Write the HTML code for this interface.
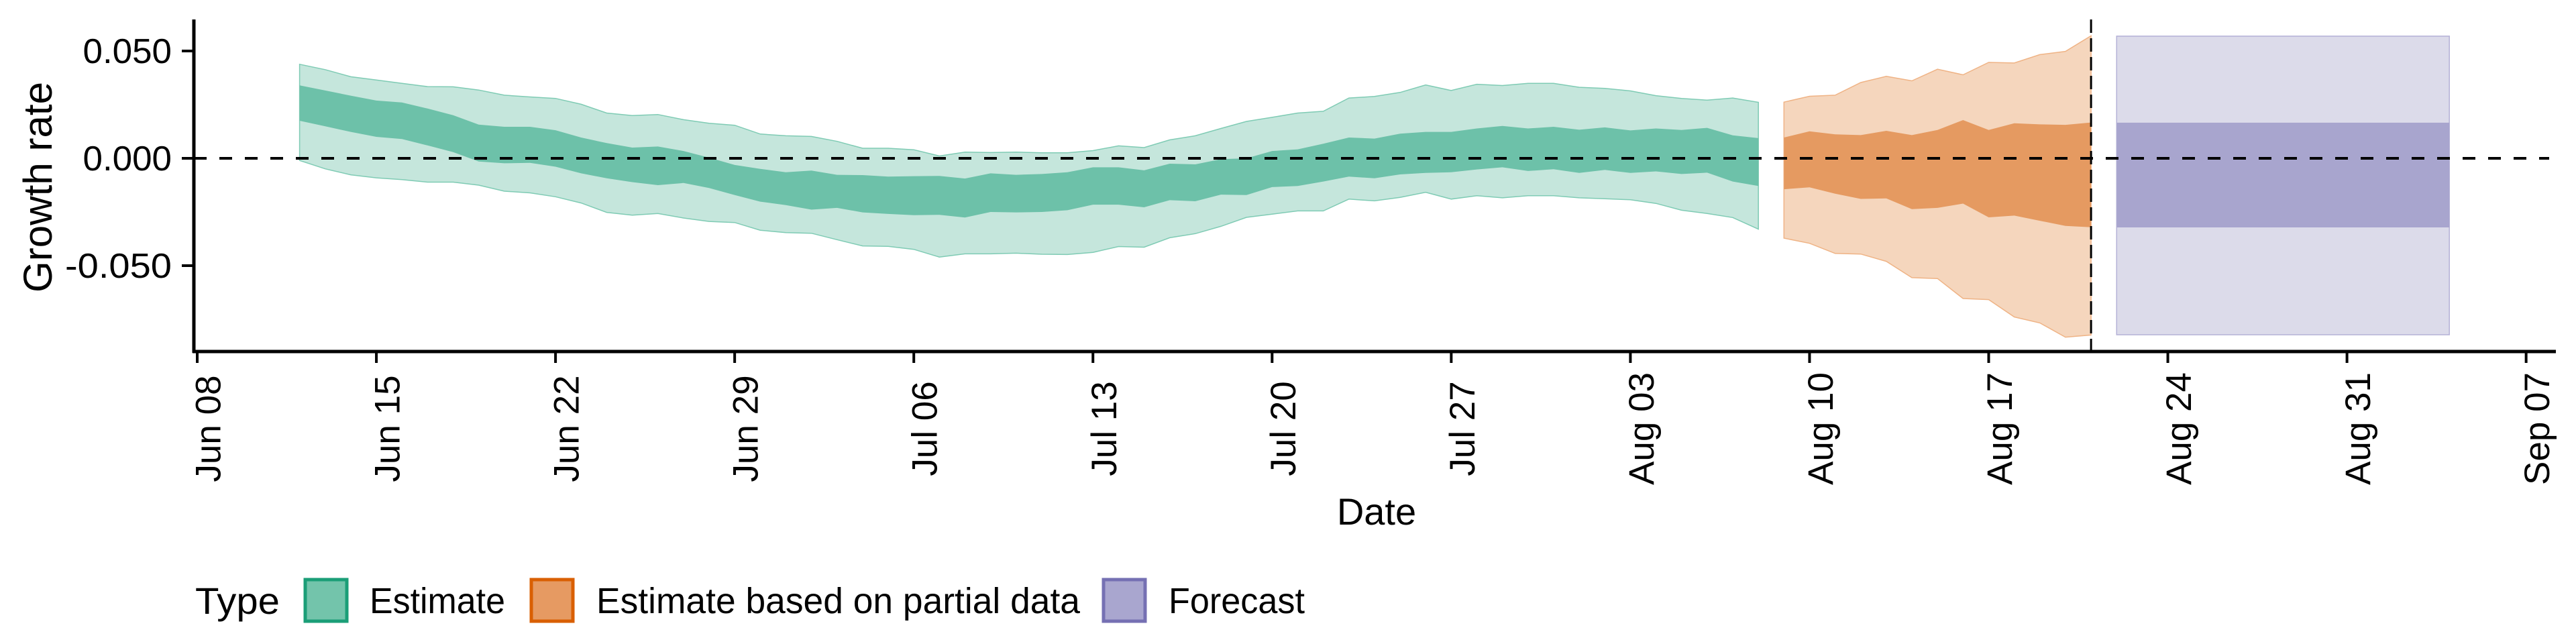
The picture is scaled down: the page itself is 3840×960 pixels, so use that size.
<!DOCTYPE html>
<html><head><meta charset="utf-8"><style>
html,body{margin:0;padding:0;background:#fff;}
svg{display:block;font-family:"Liberation Sans",sans-serif;}
</style></head><body>
<svg id="chart" width="3840" height="960" viewBox="0 0 3840 960" xmlns="http://www.w3.org/2000/svg">
<g id="bands"></g>
<g id="axes"></g>
<g id="legend"></g>
</svg>
<script>
// ---- data ----
const estStartDay = 4; // days since Jun 08
const estOuterUpper = [0.0438,0.0413,0.0380,0.0365,0.0349,0.0334,0.0333,0.0318,0.0294,0.0286,0.0279,0.0252,0.0211,0.0199,0.0204,0.0180,0.0163,0.0154,0.0113,0.0105,0.0102,0.0079,0.0047,0.0047,0.0040,0.0011,0.0029,0.0027,0.0029,0.0026,
0.0026,0.0036,0.0058,0.0050,0.0086,0.0105,0.0139,0.0172,0.0191,0.0211,0.0219,0.0281,0.0288,0.0307,0.0342,0.0316,0.0345,0.0339,0.0349,0.0349,0.0331,0.0326,0.0314,0.0292,0.0279,0.0271,0.0281,0.0261];
const estInnerUpper = [0.0340,0.0316,0.0292,0.0269,0.0260,0.0232,0.0201,0.0157,0.0147,0.0147,0.0131,0.0097,0.0071,0.0050,0.0055,0.0034,0.0003,-0.0031,-0.0049,-0.0065,-0.0057,-0.0077,-0.0078,-0.0085,-0.0083,-0.0082,-0.0094,-0.0070,-0.0077,-0.0073,
-0.0065,-0.0042,-0.0042,-0.0056,-0.0025,-0.0028,-0.0004,0.0000,0.0034,0.0042,0.0068,0.0097,0.0092,0.0115,0.0123,0.0123,0.0139,0.0151,0.0139,0.0147,0.0133,0.0144,0.0130,0.0139,0.0132,0.0142,0.0107,0.0094];
const estInnerLower = [0.0175,0.0149,0.0123,0.0100,0.0090,0.0060,0.0029,-0.0015,-0.0023,-0.0021,-0.0039,-0.0070,-0.0093,-0.0111,-0.0125,-0.0115,-0.0138,-0.0171,-0.0202,-0.0218,-0.0239,-0.0231,-0.0252,-0.0259,-0.0265,-0.0263,-0.0276,-0.0250,-0.0252,-0.0250,
-0.0242,-0.0216,-0.0216,-0.0228,-0.0195,-0.0200,-0.0169,-0.0171,-0.0134,-0.0129,-0.0108,-0.0085,-0.0093,-0.0075,-0.0068,-0.0065,-0.0052,-0.0042,-0.0059,-0.0051,-0.0068,-0.0054,-0.0068,-0.0061,-0.0073,-0.0067,-0.0108,-0.0129];
const estOuterLower = [-0.0010,-0.0049,-0.0077,-0.0091,-0.0099,-0.0111,-0.0111,-0.0125,-0.0153,-0.0161,-0.0179,-0.0208,-0.0252,-0.0265,-0.0257,-0.0278,-0.0294,-0.0299,-0.0335,-0.0346,-0.0349,-0.0379,-0.0408,-0.0410,-0.0424,-0.0460,-0.0445,-0.0445,-0.0442,-0.0447,
-0.0448,-0.0438,-0.0411,-0.0414,-0.0370,-0.0351,-0.0317,-0.0275,-0.0260,-0.0245,-0.0245,-0.0190,-0.0198,-0.0182,-0.0158,-0.0190,-0.0174,-0.0184,-0.0174,-0.0174,-0.0184,-0.0188,-0.0193,-0.0210,-0.0242,-0.0257,-0.0276,-0.0330];
const partStartDay = 62;
const partOuterUpper = [0.0262,0.0289,0.0294,0.0353,0.0382,0.0361,0.0415,0.0389,0.0447,0.0444,0.0483,0.0498,0.0571];
const partInnerUpper = [0.0097,0.0126,0.0112,0.0108,0.0128,0.0108,0.0132,0.0178,0.0132,0.0163,0.0158,0.0156,0.0167];
const partInnerLower = [-0.0144,-0.0135,-0.0165,-0.0189,-0.0187,-0.0237,-0.0231,-0.0211,-0.0275,-0.0267,-0.0291,-0.0315,-0.0321];
const partOuterLower = [-0.0372,-0.0396,-0.0443,-0.0446,-0.0480,-0.0556,-0.0560,-0.0653,-0.0658,-0.0739,-0.0767,-0.0833,-0.0823];
const fcDays = [75, 88];
const fcOuter = [-0.0822, 0.0569];
const fcInner = [-0.0322, 0.0166];
const cutoffDay = 74;
const yTicks = [0.05, 0, -0.05];
const yTickLabels = ["0.050","0.000","-0.050"];
const xTickDays = [0,7,14,21,28,35,42,49,56,63,70,77,84,91];
const xTickLabels = ["Jun 08","Jun 15","Jun 22","Jun 29","Jul 06","Jul 13","Jul 20","Jul 27","Aug 03","Aug 10","Aug 17","Aug 24","Aug 31","Sep 07"];
const legendLabels = ["Estimate","Estimate based on partial data","Forecast"];

// ---- scales ----
const X0 = 294, PXD = 38.15, Y0 = 236, PXV = 160/0.05;
const xs = d => X0 + d*PXD;
const ys = v => Y0 - v*PXV;
const NS = "http://www.w3.org/2000/svg";
function mk(tag, parent){ const e = document.createElementNS(NS, tag); parent.appendChild(e); return e; }
const bands = document.getElementById('bands');
const axes = document.getElementById('axes');
const legend = document.getElementById('legend');

function band(start, up, lo, fill, stroke, name){
  const pts = [];
  up.forEach((v,i)=>pts.push(xs(start+i).toFixed(1)+","+ys(v).toFixed(1)));
  for(let i=lo.length-1;i>=0;i--) pts.push(xs(start+i).toFixed(1)+","+ys(lo[i]).toFixed(1));
  const p = mk('polygon', bands);
  p.setAttribute('points', pts.join(' '));
  p.setAttribute('fill', fill);
  p.setAttribute('stroke', stroke);
  p.setAttribute('stroke-width', '1.5');
  
  
  return p;
}
band(estStartDay, estOuterUpper, estOuterLower, '#c5e6dc', '#7fcbb4', 'estimate-outer-band');
band(estStartDay, estInnerUpper, estInnerLower, '#6dc1a9', 'none', 'estimate-inner-band');
band(partStartDay, partOuterUpper, partOuterLower, '#f5d6bd', '#efb385', 'partial-outer-band');
band(partStartDay, partInnerUpper, partInnerLower, '#e59a61', 'none', 'partial-inner-band');

function rectBand(days, rng, fill, stroke, name){
  const p = mk('polygon', bands);
  p.setAttribute('points',[xs(days[0])+","+ys(rng[1]),xs(days[1])+","+ys(rng[1]),xs(days[1])+","+ys(rng[0]),xs(days[0])+","+ys(rng[0])].join(' '));
  p.setAttribute('fill', fill);
  p.setAttribute('stroke', stroke);
  p.setAttribute('stroke-width', '1.5');
  
  
}
rectBand(fcDays, fcOuter, '#dcdbea', '#b4b1d6', 'forecast-outer-band');
rectBand(fcDays, fcInner, '#a8a5ce', 'none', 'forecast-inner-band');

// zero line
let l = mk('line', axes);
l.setAttribute('x1', 289); l.setAttribute('x2', 3800);
l.setAttribute('y1', ys(0)); l.setAttribute('y2', ys(0));
l.setAttribute('stroke', '#000'); l.setAttribute('stroke-width', 4); l.setAttribute('stroke-dasharray', '19 19');


// cutoff line
l = mk('line', axes);
l.setAttribute('x1', xs(cutoffDay)); l.setAttribute('x2', xs(cutoffDay));
l.setAttribute('y1', 29); l.setAttribute('y2', 524);
l.setAttribute('stroke', '#000'); l.setAttribute('stroke-width', 3); l.setAttribute('stroke-dasharray', '20 8');



// axes lines
l = mk('line', axes);
l.setAttribute('x1', 289); l.setAttribute('x2', 289); l.setAttribute('y1', 29); l.setAttribute('y2', 526);
l.setAttribute('stroke', '#000'); l.setAttribute('stroke-width', 5);


l = mk('line', axes);
l.setAttribute('x1', 287); l.setAttribute('x2', 3810); l.setAttribute('y1', 524); l.setAttribute('y2', 524);
l.setAttribute('stroke', '#000'); l.setAttribute('stroke-width', 5);



yTicks.forEach((v,i)=>{
  const t = mk('line', axes);
  t.setAttribute('x1', 271); t.setAttribute('x2', 289); t.setAttribute('y1', ys(v)); t.setAttribute('y2', ys(v));
  t.setAttribute('stroke', '#000'); t.setAttribute('stroke-width', 4);
  
  
  const tx = mk('text', axes);
  tx.setAttribute('x', 256); tx.setAttribute('y', ys(v)+18);
  tx.setAttribute('text-anchor', 'end'); tx.setAttribute('font-size', 52);
  tx.setAttribute('textLength', yTickLabels[i].length*26.5); tx.setAttribute('lengthAdjust', 'spacingAndGlyphs');
  tx.textContent = yTickLabels[i];
  
  
});
xTickDays.forEach((d,i)=>{
  const t = mk('line', axes);
  t.setAttribute('x1', xs(d)); t.setAttribute('x2', xs(d)); t.setAttribute('y1', 524); t.setAttribute('y2', 541);
  t.setAttribute('stroke', '#000'); t.setAttribute('stroke-width', 4);
  
  
  const tx = mk('text', axes);
  const cx = xs(d)+17, cy = 639;
  tx.setAttribute('x', cx); tx.setAttribute('y', cy);
  tx.setAttribute('text-anchor', 'middle'); tx.setAttribute('dominant-baseline', 'central');
  tx.setAttribute('font-size', 53);
  tx.setAttribute('transform', 'rotate(-90 '+cx+' '+cy+')');
  tx.textContent = xTickLabels[i];
  
  
});
let tt = mk('text', axes);
tt.setAttribute('x', 2052); tt.setAttribute('y', 782); tt.setAttribute('text-anchor', 'middle'); tt.setAttribute('font-size', 56);
tt.textContent = 'Date';


tt = mk('text', axes);
tt.setAttribute('x', 77); tt.setAttribute('y', 279); tt.setAttribute('text-anchor', 'middle'); tt.setAttribute('font-size', 60);
tt.setAttribute('textLength', 314); tt.setAttribute('lengthAdjust', 'spacingAndGlyphs');
tt.setAttribute('transform', 'rotate(-90 77 279)');
tt.textContent = 'Growth rate';



// legend
tt = mk('text', legend);
tt.setAttribute('x', 291); tt.setAttribute('y', 915); tt.setAttribute('font-size', 56);
tt.setAttribute('textLength', 126); tt.setAttribute('lengthAdjust', 'spacingAndGlyphs');
tt.textContent = 'Type';


const keyX = [453, 790, 1643], labX = [551, 889, 1742], labW = [202, 721, 203];
const keyFill = ['#73c4ab','#e69a62','#a9a6cf'], keyStroke = ['#1b9e77','#d95f02','#7570b3'];
legendLabels.forEach((lab,i)=>{
  const r = mk('rect', legend);
  r.setAttribute('x', keyX[i]+2); r.setAttribute('y', 864); r.setAttribute('width', 62); r.setAttribute('height', 62);
  r.setAttribute('fill', keyFill[i]); r.setAttribute('stroke', keyStroke[i]); r.setAttribute('stroke-width', 5);
  
  
  const tx = mk('text', legend);
  tx.setAttribute('x', labX[i]); tx.setAttribute('y', 914); tx.setAttribute('font-size', 54);
  tx.setAttribute('textLength', labW[i]); tx.setAttribute('lengthAdjust', 'spacingAndGlyphs');
  tx.textContent = lab;
  
  
});
</script>
</body></html>
